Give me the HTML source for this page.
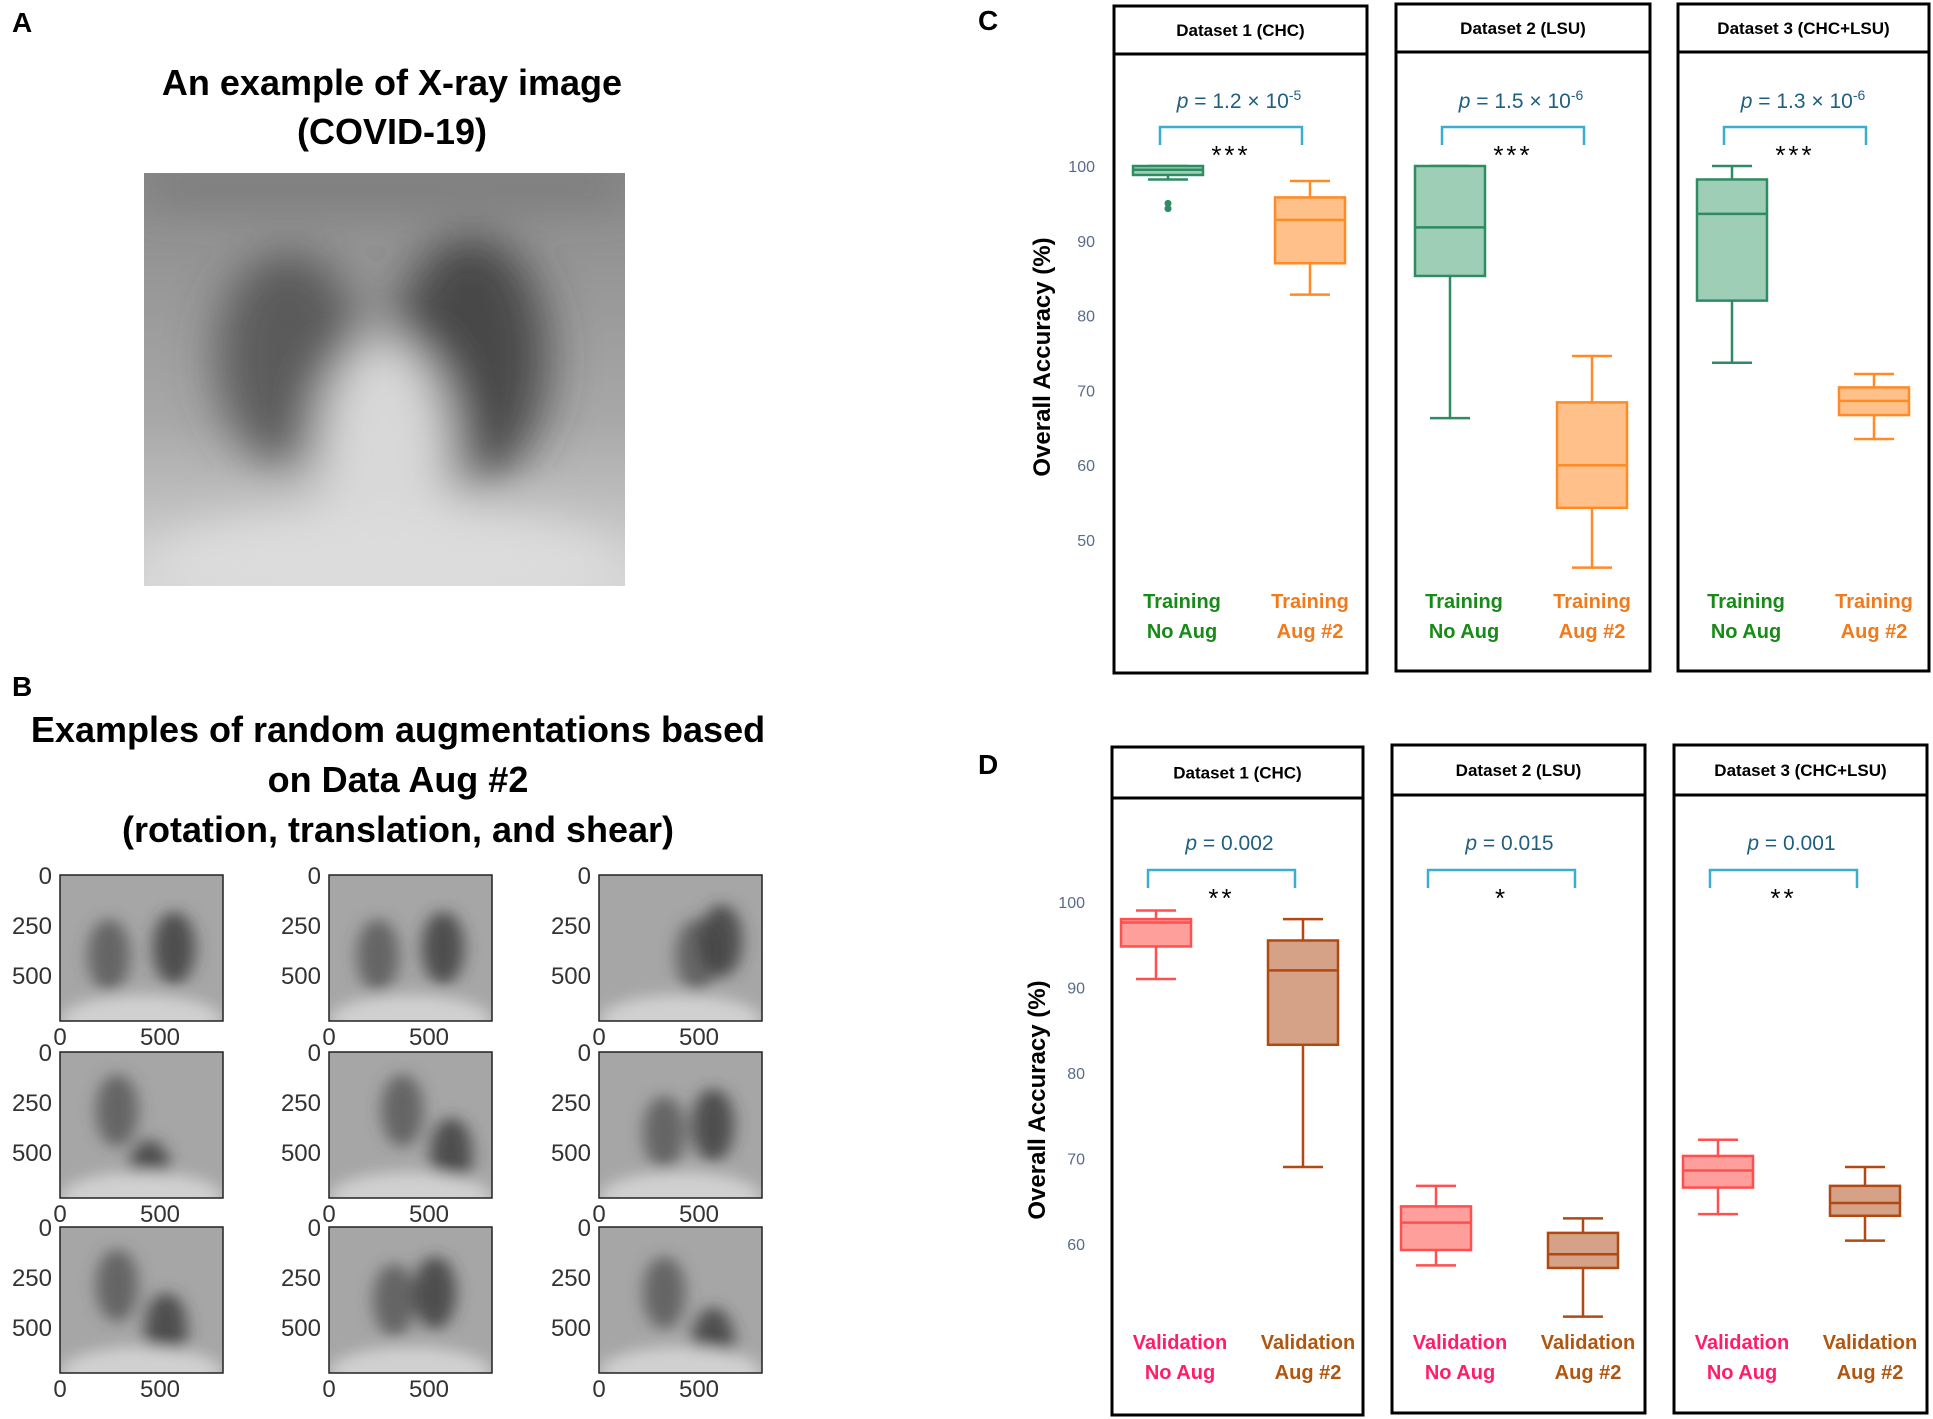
<!DOCTYPE html>
<html><head><meta charset="utf-8"><style>
html,body{margin:0;padding:0;background:#fff}
svg{display:block}
text{font-family:"Liberation Sans",sans-serif}
</style></head><body>
<svg id="fig" width="1933" height="1419" viewBox="0 0 1933 1419" xmlns="http://www.w3.org/2000/svg">
<defs>
<filter id="blur6"><feGaussianBlur stdDeviation="10"/></filter>
<filter id="blur3"><feGaussianBlur stdDeviation="5"/></filter>
<linearGradient id="xbg" x1="0" y1="0" x2="0" y2="1"><stop offset="0" stop-color="#8a8a8a"/><stop offset="0.6" stop-color="#a8a8a8"/><stop offset="1" stop-color="#d4d4d4"/></linearGradient>
</defs>
<g id="panelA">
<text x="12" y="32" font-size="28" font-weight="bold">A</text>
<text x="392" y="95" font-size="36" font-weight="bold" text-anchor="middle">An example of X-ray image</text>
<text x="392" y="144" font-size="36" font-weight="bold" text-anchor="middle">(COVID-19)</text>
<g>
<svg x="144" y="173" width="481" height="413" viewBox="0 0 100 100" preserveAspectRatio="none">
<rect width="100" height="100" fill="url(#xbg)"/>
<g filter="url(#blur3)">
<ellipse cx="30" cy="45" rx="15" ry="26" fill="#4a4a4a" opacity="0.8"/>
<ellipse cx="68" cy="45" rx="16" ry="30" fill="#3a3a3a" opacity="0.85"/>
<ellipse cx="50" cy="70" rx="14" ry="30" fill="#d8d8d8"/>
<ellipse cx="50" cy="95" rx="50" ry="14" fill="#dcdcdc"/>
<rect x="0" y="0" width="100" height="8" fill="#6a6a6a" opacity="0.5"/>
</g>
</svg>
</g>
</g>
<g id="panelB">
<text x="12" y="696" font-size="28" font-weight="bold">B</text>
<text x="398" y="742" font-size="36" font-weight="bold" text-anchor="middle">Examples of random augmentations based</text>
<text x="398" y="792" font-size="36" font-weight="bold" text-anchor="middle">on Data Aug #2</text>
<text x="398" y="842" font-size="36" font-weight="bold" text-anchor="middle">(rotation, translation, and shear)</text>
<g id="thumbs"></g>
</g>
<g id="panelC"></g>
<g id="panelD"></g>
</svg>
<script>
// ---- Panel C data (Training) ----
const cDatasets = ["Dataset 1 (CHC)", "Dataset 2 (LSU)", "Dataset 3 (CHC+LSU)"];
const cPvals = ["1.2 × 10", "1.5 × 10", "1.3 × 10"];
const cPexp = ["-5", "-6", "-6"];
const cStars = ["***", "***", "***"];
const cNoAug = [[98.2, 98.8, 99.5, 100, 100], [66.3, 85.3, 91.8, 100, 100], [73.7, 82, 93.6, 98.2, 100]];
const cAug = [[82.8, 87, 92.8, 95.8, 98], [46.3, 54.3, 60, 68.4, 74.6], [63.5, 66.7, 68.6, 70.4, 72.2]];
const cOutliers = [[95, 94.3], [], []];
const cTicks = [50, 60, 70, 80, 90, 100];
// ---- Panel D data (Validation) ----
const dDatasets = ["Dataset 1 (CHC)", "Dataset 2 (LSU)", "Dataset 3 (CHC+LSU)"];
const dPvals = ["0.002", "0.015", "0.001"];
const dStars = ["**", "*", "**"];
const dNoAug = [[91, 94.8, 97.6, 98, 99], [57.5, 59.3, 62.5, 64.4, 66.8], [63.5, 66.6, 68.6, 70.3, 72.2]];
const dAug = [[69, 83.3, 92, 95.5, 98], [51.5, 57.2, 58.8, 61.3, 63], [60.4, 63.3, 64.8, 66.8, 69]];
const dTicks = [50, 60, 70, 80, 90, 100];

const NS = "http://www.w3.org/2000/svg";
function mk(tag, attrs, parent, txt) {
  const e = document.createElementNS(NS, tag);
  for (const k in attrs) e.setAttribute(k, attrs[k]);
  if (txt !== undefined) e.textContent = txt;
  parent.appendChild(e);
  return e;
}

// thumbnails
const thumbs = document.getElementById('thumbs');
const tcols = [60, 329, 599], trows = [875, 1052, 1227];
const lungSets = [[30,55,70,30],[30,55,70,30],[60,55,75,25],[35,40,55,65],[45,40,75,50],[40,55,70,30],[35,40,65,50],[40,50,65,25],[40,45,70,60]];
trows.forEach((ty, r) => tcols.forEach((tx, c) => {
  const g = mk('g', {}, thumbs);
  
  
  const s = mk('svg', {x: tx, y: ty, width: 163, height: 146, viewBox: '0 0 100 100', preserveAspectRatio: 'none'}, g);
  mk('rect', {width: 100, height: 100, fill: '#a6a6a6'}, s);
  const L = lungSets[r * 3 + c];
  const gg = mk('g', {filter: 'url(#blur3)'}, s);
  mk('ellipse', {cx: L[0], cy: L[1], rx: 13, ry: 25, fill: '#4a4a4a', opacity: 0.7}, gg);
  mk('ellipse', {cx: L[2], cy: L[3] + 20, rx: 13, ry: 25, fill: '#3a3a3a', opacity: 0.8}, gg);
  mk('ellipse', {cx: 50, cy: 100, rx: 50, ry: 18, fill: '#d0d0d0'}, gg);
  mk('rect', {x: tx, y: ty, width: 163, height: 146, fill: 'none', stroke: '#222', 'stroke-width': 1.5}, g);
  [[0, 0], [250, 50], [500, 100]].forEach(([lab, off]) => {
    const t = mk('text', {x: tx - 8, y: ty + off * 1.0 + 9, 'font-size': 24, 'text-anchor': 'end', fill: '#333'}, g, lab);
    
    
  });
  [[0, 0], [500, 100]].forEach(([lab, off]) => {
    const t = mk('text', {x: tx + off, y: ty + 170, 'font-size': 24, 'text-anchor': 'middle', fill: '#333'}, g, lab);
    
    
  });
}));

function drawPanel(cfg) {
  const root = document.getElementById(cfg.id);
  mk('text', {x: cfg.labX, y: cfg.labY, 'font-size': 28, 'font-weight': 'bold'}, root, cfg.letter);
  const yScale = v => cfg.y0 - (v - cfg.v0) * cfg.ppu;
  const ax = mk('g', {}, root);
  
  
  cfg.ticks.forEach(t => {
    const y = yScale(t);
    if (y > cfg.clipY + 4) return;
    const e = mk('text', {x: cfg.tickX, y: y + 6, 'font-size': 16, 'text-anchor': 'end', fill: '#5a6a8a'}, ax, t);
    
    
  });
  const yl = mk('text', {x: 0, y: 0, 'font-size': 24, 'font-weight': 'bold', 'text-anchor': 'middle', transform: `translate(${cfg.ylabX},${cfg.ylabY}) rotate(-90)`}, ax, 'Overall Accuracy (%)');
  
  

  cfg.datasets.forEach((name, i) => {
    const p = cfg.panels[i];
    const g = mk('g', {}, root);
    
    
    mk('rect', {x: p.x, y: p.top, width: p.w, height: p.bottom - p.top, fill: 'none', stroke: '#000', 'stroke-width': 3}, g);
    mk('line', {x1: p.x, x2: p.x + p.w, y1: p.head, y2: p.head, stroke: '#000', 'stroke-width': 3}, g);
    const ht = mk('text', {x: p.x + p.w / 2, y: (p.top + p.head) / 2 + 6, 'font-size': 17, 'font-weight': 'bold', 'text-anchor': 'middle'}, g, name);
    
    
    const cx1 = p.x + cfg.off1, cx2 = p.x + cfg.off2;
    const pt = mk('text', {x: (cx1 + cx2) / 2, y: cfg.pY, 'font-size': 21, 'text-anchor': 'middle', fill: '#1f5f7f'}, g);
    
    
    mk('tspan', {'font-style': 'italic'}, pt, 'p');
    mk('tspan', {}, pt, ' = ' + cfg.pvals[i]);
    if (cfg.pexp) mk('tspan', {dy: -8, 'font-size': 14}, pt, cfg.pexp[i]);
    const br = mk('path', {d: `M${cx1 - 8},${cfg.brY + 18} V${cfg.brY} H${cx2 - 8} V${cfg.brY + 18}`, fill: 'none', stroke: '#3aaed0', 'stroke-width': 2.5}, g);
    
    
    const st = mk('text', {x: (cx1 + cx2) / 2 - 8, y: cfg.starY, 'font-size': 26, 'text-anchor': 'middle', 'letter-spacing': 3}, g, cfg.stars[i]);
    
    
    [[cfg.s1[i], cx1, cfg.c1, 0], [cfg.s2[i], cx2, cfg.c2, 1]].forEach(([q, cx, col, k]) => {
      const b = mk('g', {}, g);
      
      
      const hw = 35, cw = 20;
      mk('line', {x1: cx, x2: cx, y1: yScale(q[0]), y2: yScale(q[1]), stroke: col.s, 'stroke-width': 2.5}, b);
      mk('line', {x1: cx, x2: cx, y1: yScale(q[3]), y2: yScale(q[4]), stroke: col.s, 'stroke-width': 2.5}, b);
      mk('line', {x1: cx - cw, x2: cx + cw, y1: yScale(q[0]), y2: yScale(q[0]), stroke: col.s, 'stroke-width': 2.5}, b);
      mk('line', {x1: cx - cw, x2: cx + cw, y1: yScale(q[4]), y2: yScale(q[4]), stroke: col.s, 'stroke-width': 2.5}, b);
      mk('rect', {x: cx - hw, y: yScale(q[3]), width: 2 * hw, height: Math.max(1, yScale(q[1]) - yScale(q[3])), fill: col.f, stroke: col.s, 'stroke-width': 2.5}, b);
      mk('line', {x1: cx - hw, x2: cx + hw, y1: yScale(q[2]), y2: yScale(q[2]), stroke: col.s, 'stroke-width': 2.5}, b);
      if (!k && cfg.outliers) cfg.outliers[i].forEach(o => {
        const c = mk('circle', {cx: cx, cy: yScale(o), r: 3.5, fill: col.s}, b);
        
        
      });
      const lx = cx + (k ? cfg.labOff2 : cfg.labOff1);
      [[cfg.lab, 0], [k ? 'Aug #2' : 'No Aug', 1]].forEach(([t, j]) => {
        const e = mk('text', {x: lx, y: cfg.labY1 + j * 30, 'font-size': 20, 'font-weight': 'bold', 'text-anchor': 'middle', fill: col.t}, b, t);
        
        
      });
    });
  });
}

drawPanel({id: 'panelC', letter: 'C', labX: 978, labY: 30, y0: 166, v0: 100, ppu: 7.48, clipY: 560,
  ticks: cTicks, tickX: 1095, ylabX: 1050, ylabY: 357,
  datasets: cDatasets, pvals: cPvals, pexp: cPexp, stars: cStars, s1: cNoAug, s2: cAug, outliers: cOutliers,
  panels: [{x: 1114, w: 253, top: 6, head: 54, bottom: 673}, {x: 1396, w: 254, top: 4, head: 52, bottom: 671}, {x: 1678, w: 251, top: 4, head: 52, bottom: 671}],
  off1: 54, off2: 196, pY: 108, brY: 127, starY: 164, labY1: 608, lab: 'Training', labOff1: 14, labOff2: 0,
  c1: {s: '#2e8b62', f: '#9fceb6', t: '#178a17'}, c2: {s: '#ff8a26', f: '#ffc08a', t: '#f07a1c'}});

drawPanel({id: 'panelD', letter: 'D', labX: 978, labY: 774, y0: 902, v0: 100, ppu: 8.55, clipY: 1300,
  ticks: dTicks, tickX: 1085, ylabX: 1045, ylabY: 1100,
  datasets: dDatasets, pvals: dPvals, pexp: null, stars: dStars, s1: dNoAug, s2: dAug, outliers: null,
  panels: [{x: 1112, w: 251, top: 747, head: 798, bottom: 1415}, {x: 1392, w: 253, top: 745, head: 795, bottom: 1413}, {x: 1674, w: 253, top: 745, head: 795, bottom: 1413}],
  off1: 44, off2: 191, pY: 850, brY: 870, starY: 907, labY1: 1349, lab: 'Validation', labOff1: 24, labOff2: 5,
  c1: {s: '#ff4f4f', f: '#ff9f9b', t: '#ff1d6a'}, c2: {s: '#b04a12', f: '#d6a287', t: '#b0560e'}});
</script>
</body></html>
